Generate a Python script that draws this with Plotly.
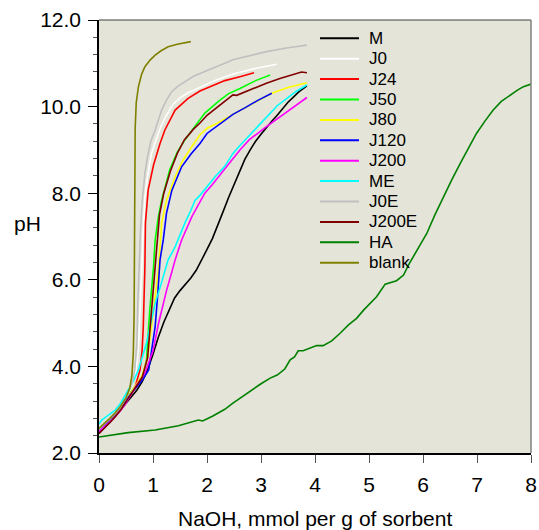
import plotly.graph_objects as go

names = ["M", "J0", "J24", "J50", "J80", "J120", "J200", "ME", "J0E", "J200E", "HA", "blank"]
colors = ["#000000", "#FFFFFF", "#FF0000", "#00FF00", "#FFFF00", "#0000FF", "#FF00FF",
          "#00FFFF", "#C0C0C0", "#800000", "#008000", "#808000"]

M_x = [0, 0.1, 0.2, 0.3, 0.4, 0.5, 0.6, 0.7, 0.8, 0.9, 1.0, 1.1, 1.2, 1.3, 1.4, 1.5, 1.6, 1.7, 1.8, 1.9,
       2.0, 2.1, 2.2, 2.3, 2.4, 2.5, 2.6, 2.7, 2.8, 2.9, 3.0, 3.1, 3.2, 3.3, 3.4, 3.5, 3.6, 3.7, 3.85]
M_y = [2.45, 2.58, 2.72, 2.86, 3.0, 3.15, 3.3, 3.45, 3.65, 3.92, 4.28, 4.68, 5.02, 5.32, 5.58, 5.75, 5.9,
       6.04, 6.22, 6.48, 6.7, 6.95, 7.25, 7.58, 7.9, 8.2, 8.5, 8.78, 9.0, 9.2, 9.36, 9.52, 9.66, 9.8,
       9.96, 10.1, 10.22, 10.34, 10.48]

J0_x = [0, 0.1, 0.2, 0.3, 0.4, 0.5, 0.6, 0.68, 0.73, 0.77, 0.79, 0.82, 0.85, 0.9, 0.97, 1.06, 1.15,
        1.25, 1.37, 1.5, 1.65, 1.87, 2.1, 2.48, 2.85, 3.1, 3.29]
J0_y = [2.52, 2.64, 2.77, 2.9, 3.05, 3.25, 3.5, 3.85, 4.4, 5.4, 6.2, 7.2, 7.9, 8.4, 8.9, 9.25, 9.55,
        9.8, 10.05, 10.2, 10.32, 10.44, 10.58, 10.75, 10.87, 10.93, 10.98]

J24_x = [0, 0.1, 0.2, 0.3, 0.4, 0.5, 0.6, 0.67, 0.76, 0.8, 0.82, 0.84, 0.85, 0.86, 0.91, 1.01, 1.13,
         1.22, 1.41, 1.65, 1.87, 2.1, 2.33, 2.61, 2.87]
J24_y = [2.5, 2.62, 2.75, 2.89, 3.04, 3.23, 3.4, 3.53, 3.92, 4.4, 4.92, 5.8, 6.3, 7.31, 8.07, 8.65, 9.15,
         9.46, 9.92, 10.19, 10.36, 10.48, 10.6, 10.69, 10.78]

J50_x = [0, 0.1, 0.2, 0.3, 0.4, 0.5, 0.6, 0.7, 0.79, 0.88, 0.94, 1.01, 1.04, 1.1, 1.16, 1.31, 1.45, 1.59,
         1.78, 1.87, 1.96, 2.24, 2.4, 2.61, 2.9, 3.17]
J50_y = [2.55, 2.66, 2.78, 2.9, 3.05, 3.24, 3.42, 3.58, 3.69, 4.15, 5.3, 6.3, 6.92, 7.46, 7.84, 8.54,
         8.95, 9.23, 9.55, 9.69, 9.85, 10.15, 10.3, 10.42, 10.6, 10.73]

J80_x = [0, 0.1, 0.2, 0.3, 0.4, 0.5, 0.6, 0.7, 0.8, 0.9, 0.98, 1.05, 1.1, 1.16, 1.25, 1.41, 1.55, 1.72,
         1.87, 2.0, 2.2, 2.48, 2.7, 2.95, 3.2, 3.5, 3.85]
J80_y = [2.5, 2.62, 2.75, 2.88, 3.03, 3.22, 3.4, 3.58, 3.8, 4.2, 5.0, 5.8, 6.23, 7.31, 7.84, 8.38, 8.75,
         9.08, 9.35, 9.5, 9.62, 9.82, 9.97, 10.15, 10.31, 10.44, 10.55]

J120_x = [0, 0.1, 0.2, 0.3, 0.4, 0.5, 0.6, 0.7, 0.8, 0.92, 0.98, 1.04, 1.09, 1.13, 1.19, 1.25, 1.35,
          1.53, 1.7, 1.87, 2.0, 2.24, 2.48, 2.7, 2.95, 3.2]
J120_y = [2.5, 2.62, 2.76, 2.9, 3.05, 3.22, 3.38, 3.52, 3.68, 3.92, 4.4, 4.92, 5.7, 6.46, 6.92, 7.54,
          8.07, 8.61, 8.9, 9.15, 9.38, 9.6, 9.82, 9.97, 10.15, 10.31]

J200_x = [0, 0.1, 0.2, 0.3, 0.4, 0.5, 0.6, 0.7, 0.8, 0.85, 0.9, 1.0, 1.1, 1.16, 1.25, 1.33, 1.41, 1.53,
          1.72, 1.87, 1.96, 2.1, 2.3, 2.45, 2.61, 2.78, 3.1, 3.48, 3.85]
J200_y = [2.5, 2.6, 2.72, 2.84, 2.98, 3.15, 3.38, 3.58, 3.75, 3.85, 4.02, 4.36, 4.98, 5.3, 5.75, 6.1,
          6.46, 6.92, 7.46, 7.8, 8.0, 8.2, 8.5, 8.75, 9.0, 9.23, 9.54, 9.88, 10.21]

ME_x = [0, 0.05, 0.15, 0.3, 0.4, 0.54, 0.63, 0.73, 0.8, 0.88, 0.96, 1.04, 1.15, 1.28, 1.41, 1.5, 1.59,
        1.7, 1.78, 1.87, 2.0, 2.15, 2.33, 2.48, 2.61, 2.8, 3.1, 3.3, 3.48, 3.65, 3.85]
ME_y = [2.67, 2.76, 2.85, 2.99, 3.15, 3.45, 3.65, 3.92, 4.2, 4.54, 5.0, 5.46, 5.9, 6.46, 6.76, 7.05,
        7.31, 7.6, 7.84, 7.95, 8.15, 8.38, 8.62, 8.92, 9.1, 9.35, 9.77, 10.02, 10.19, 10.35, 10.5]

J0E_x = [0, 0.1, 0.2, 0.3, 0.4, 0.5, 0.6, 0.66, 0.7, 0.72, 0.74, 0.77, 0.8, 0.85, 0.9, 0.96, 1.04, 1.16,
         1.25, 1.35, 1.47, 1.59, 1.75, 1.96, 2.15, 2.33, 2.48, 2.8, 3.1, 3.5, 3.85]
J0E_y = [2.55, 2.66, 2.78, 2.91, 3.06, 3.26, 3.55, 3.9, 4.5, 5.5, 6.3, 7.2, 7.8, 8.46, 8.85, 9.2, 9.46,
         9.92, 10.15, 10.35, 10.48, 10.58, 10.7, 10.81, 10.9, 11.0, 11.08, 11.18, 11.27, 11.36, 11.42]

J200E_x = [0, 0.1, 0.2, 0.3, 0.4, 0.5, 0.6, 0.7, 0.8, 0.9, 0.97, 1.04, 1.07, 1.12, 1.2, 1.32, 1.45, 1.58,
           1.75, 1.87, 2.0, 2.24, 2.4, 2.48, 2.55, 2.7, 2.9, 3.1, 3.35, 3.6, 3.75, 3.85]
J200E_y = [2.45, 2.57, 2.7, 2.84, 2.99, 3.18, 3.38, 3.56, 3.75, 4.2, 5.3, 6.3, 6.9, 7.5, 8.0, 8.5, 8.92,
           9.23, 9.48, 9.62, 9.8, 10.04, 10.2, 10.27, 10.26, 10.34, 10.45, 10.54, 10.65, 10.75, 10.8, 10.78]

HA_x = [0, 0.54, 1.04, 1.47, 1.84, 1.92, 2.1, 2.33, 2.48, 2.65, 2.86, 3.0, 3.17, 3.3, 3.44, 3.54, 3.62,
        3.69, 3.78, 3.9, 4.03, 4.15, 4.31, 4.46, 4.62, 4.77, 4.9, 5.14, 5.3, 5.51, 5.64, 5.73, 5.9, 6.07,
        6.22, 6.38, 6.53, 6.69, 6.84, 6.99, 7.15, 7.3, 7.45, 7.61, 7.75, 7.86, 8.0]
HA_y = [2.37, 2.47, 2.53, 2.63, 2.76, 2.74, 2.85, 3.01, 3.15, 3.3, 3.49, 3.6, 3.73, 3.8, 3.94, 4.15, 4.22,
        4.36, 4.36, 4.42, 4.48, 4.48, 4.59, 4.76, 4.96, 5.11, 5.3, 5.61, 5.9, 5.98, 6.11, 6.34, 6.7, 7.07,
        7.5, 7.92, 8.3, 8.69, 9.05, 9.38, 9.67, 9.92, 10.12, 10.27, 10.38, 10.46, 10.52]

blank_x = [0, 0.1, 0.2, 0.3, 0.4, 0.5, 0.57, 0.61, 0.635, 0.65, 0.66, 0.665, 0.67, 0.69, 0.73, 0.79, 0.85,
           0.95, 1.04, 1.15, 1.28, 1.45, 1.7]
blank_y = [2.57, 2.68, 2.8, 2.93, 3.08, 3.28, 3.5, 3.8, 4.3, 5.2, 6.5, 8.0, 9.5, 10.1, 10.46, 10.75, 10.92,
           11.08, 11.19, 11.29, 11.38, 11.44, 11.5]

series_x = [M_x, J0_x, J24_x, J50_x, J80_x, J120_x, J200_x, ME_x, J0E_x, J200E_x, HA_x, blank_x]
series_y = [M_y, J0_y, J24_y, J50_y, J80_y, J120_y, J200_y, ME_y, J0E_y, J200E_y, HA_y, blank_y]

W, H = 539, 530
L, R, T, B = 99, 531, 20, 453
FONT = "Liberation Sans, Arial, sans-serif"

def px(xp):
    return (xp - L) / (R - L)

def py(yp):
    return (B - yp) / (B - T)

fig = go.Figure()
for nm, c, xs, ys in zip(names, colors, series_x, series_y):
    fig.add_trace(go.Scatter(x=xs, y=ys, mode="lines", name=nm,
                             line=dict(color=c, width=1.6), showlegend=False))

shapes = []
annotations = []
# manual legend
for i, (nm, c) in enumerate(zip(names, colors)):
    yrow = 38.3 + 20.4 * i
    shapes.append(dict(type="line", xref="paper", yref="paper",
                       x0=px(320), x1=px(359), y0=py(yrow), y1=py(yrow),
                       line=dict(color=c, width=2)))
    annotations.append(dict(text=nm, xref="paper", yref="paper", x=px(367), y=py(yrow),
                            xanchor="left", yanchor="middle", showarrow=False,
                            font=dict(family=FONT, size=17, color="#000000")))

# frame top/right
shapes.append(dict(type="line", xref="paper", yref="paper", x0=0, x1=1, y0=1, y1=1,
                   line=dict(color="#404040", width=1.2)))
shapes.append(dict(type="line", xref="paper", yref="paper", x0=1, x1=1, y0=0, y1=1,
                   line=dict(color="#808080", width=1.5)))

annotations.append(dict(text="pH", xref="paper", yref="paper", x=px(27), y=py(223),
                        xanchor="center", yanchor="middle", showarrow=False,
                        font=dict(family=FONT, size=21, color="#000000")))
annotations.append(dict(text="NaOH, mmol per g of sorbent", xref="paper", yref="paper",
                        x=px(315), y=py(518), xanchor="center", yanchor="middle", showarrow=False,
                        font=dict(family=FONT, size=21, color="#000000")))

fig.update_layout(
    width=W, height=H,
    margin=dict(l=L, r=W - R, t=T, b=H - B, autoexpand=False),
    paper_bgcolor="#FFFFFF",
    plot_bgcolor="#E4E4D8",
    shapes=shapes,
    annotations=annotations,
    showlegend=False,
    font=dict(family=FONT, size=21, color="#000000"),
)
fig.update_xaxes(range=[0, 8], dtick=1, tick0=0, showgrid=False, zeroline=False, automargin=False,
                 showline=True, linecolor="#000000", linewidth=1.5,
                 ticks="outside", ticklen=8, tickwidth=1.2, tickcolor="#555555",
                 tickfont=dict(family=FONT, size=21, color="#000000"),
                 ticklabelstandoff=4)
fig.update_yaxes(range=[2, 12], dtick=2, tick0=2, tickformat=".1f", showgrid=False, zeroline=False,
                 automargin=False,
                 showline=True, linecolor="#000000", linewidth=1.5,
                 ticks="outside", ticklen=9, tickwidth=1.2, tickcolor="#000000",
                 tickfont=dict(family=FONT, size=21, color="#000000"),
                 ticklabelstandoff=3,
                 minor=dict(dtick=0.4, ticks="outside", ticklen=4, tickwidth=1.2,
                            tickcolor="#555555", showgrid=False))

fig.write_html("out.html", config={"displayModeBar": False},
               post_script="document.body.style.margin='0px';document.body.style.overflow='hidden';")
